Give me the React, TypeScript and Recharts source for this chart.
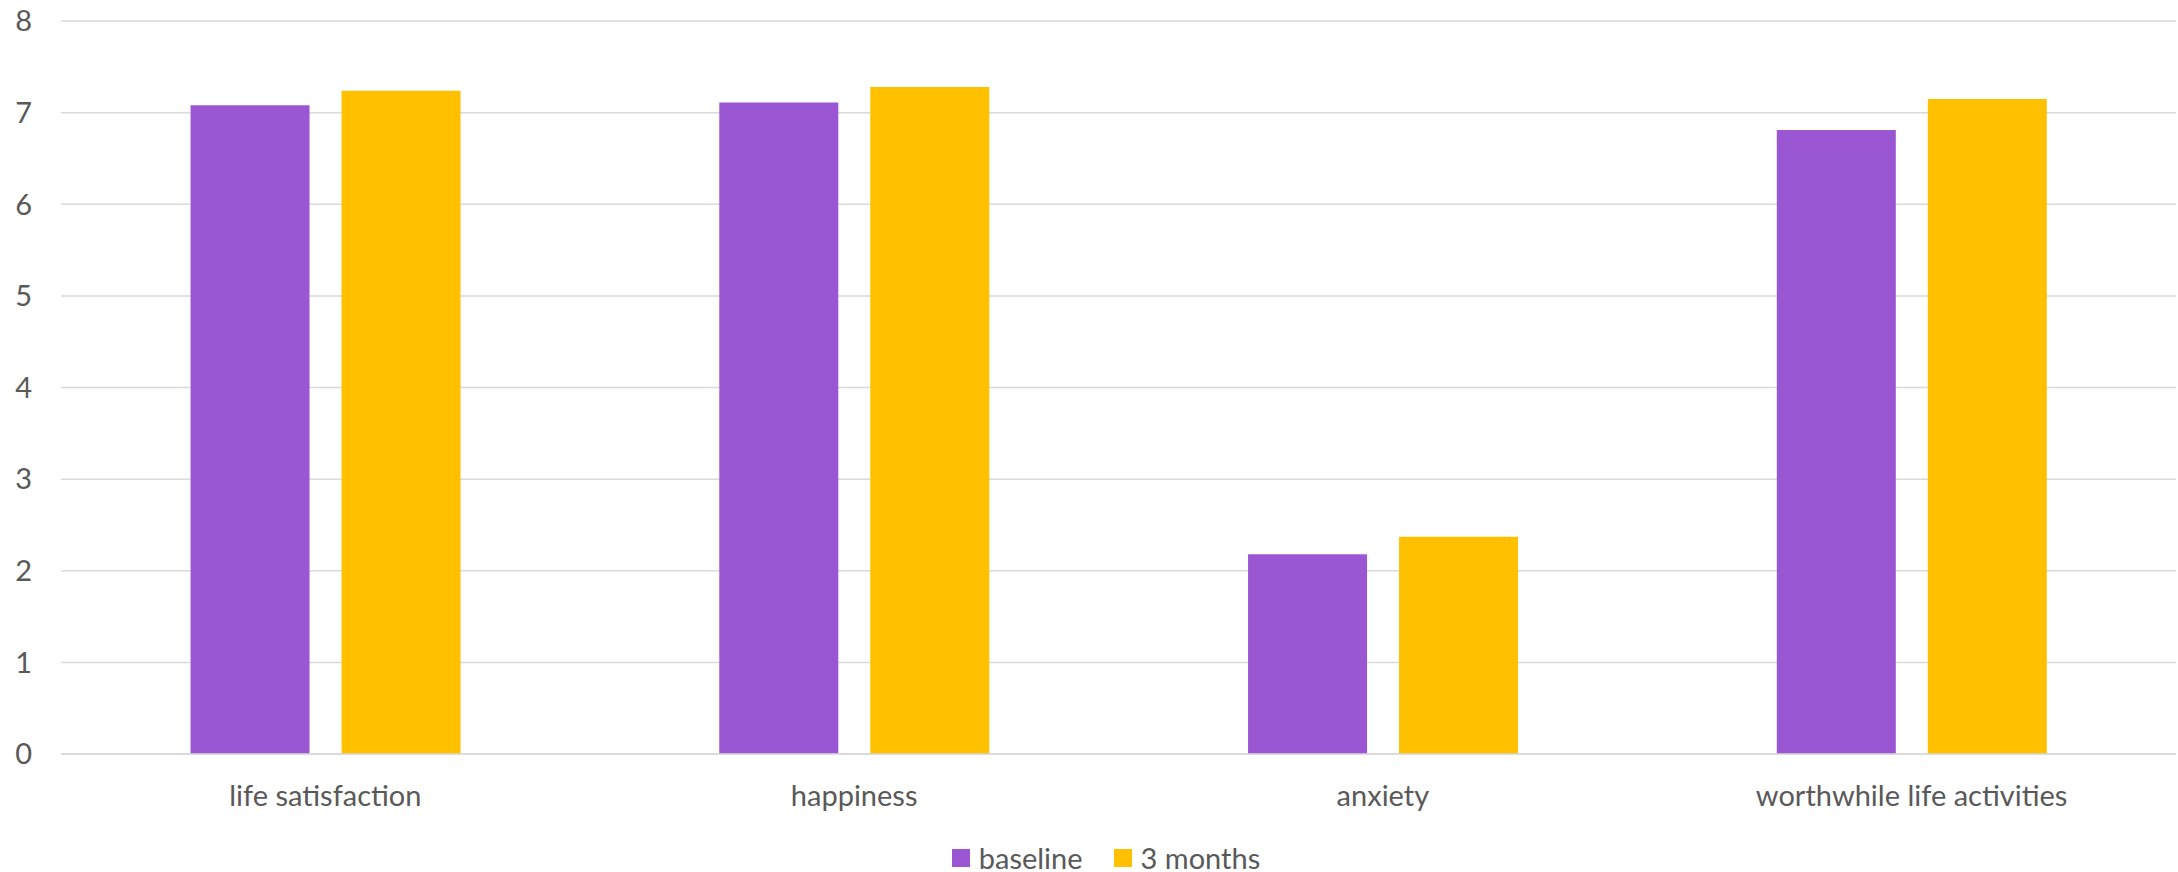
import { BarChart, Bar, XAxis, YAxis, CartesianGrid, Legend } from 'recharts';

const categories = ['life satisfaction', 'happiness', 'anxiety', 'worthwhile life activities'];
const baselineScores = [7.08, 7.11, 2.18, 6.81];
const threeMonthScores = [7.24, 7.28, 2.37, 7.15];
const seriesNames = ['baseline', '3 months'];
const seriesColors = ['#9b57d3', '#ffc000'];
const yTicks = [0, 1, 2, 3, 4, 5, 6, 7, 8];

const data = categories.map((name, i) => ({
  name,
  baseline: baselineScores[i],
  months3: threeMonthScores[i],
}));

const FONT = 'Lato, "Open Sans", sans-serif';
const TEXT = '#595959';
const GRID = '#d9d9d9';

// legend items kept in series order (recharts sorts by name otherwise)
const renderLegend = (props: any) => {
  const items = [...(props.payload || [])].sort(
    (a: any, b: any) => seriesNames.indexOf(a.value) - seriesNames.indexOf(b.value)
  );
  return (
    <div
      style={{
        display: 'flex',
        justifyContent: 'center',
        alignItems: 'center',
        height: 28,
        paddingLeft: 36,
        fontFamily: FONT,
        fontSize: 29,
        color: TEXT,
      }}
    >
      {items.map((item: any, i: number) => (
        <div key={item.value} style={{ display: 'flex', alignItems: 'center', marginLeft: i ? 31 : 0 }}>
          <span style={{ width: 18, height: 18, background: item.color, marginRight: 9, display: 'inline-block' }} />
          <span style={{ lineHeight: '28px' }}>{item.value}</span>
        </div>
      ))}
    </div>
  );
};

export default function App() {
  return (
    <div style={{ position: 'absolute', left: 0, top: 0, background: '#fff' }}>
      <BarChart
        width={2178}
        height={872}
        data={data}
        margin={{ top: 21, right: 2, bottom: 0, left: 0 }}
        barCategoryGap="24.5%"
        barGap={32}
        style={{ fontFamily: FONT }}
      >
        <CartesianGrid horizontal vertical={false} stroke={GRID} strokeWidth={1.5} />
        <XAxis
          dataKey="name"
          axisLine={{ stroke: GRID, strokeWidth: 1.5 }}
          tickLine={false}
          tickSize={0}
          tickMargin={31}
          height={90}
          tick={{ fill: TEXT, fontSize: 29, fontFamily: FONT }}
        />
        <YAxis
          domain={[0, 8]}
          ticks={yTicks}
          axisLine={false}
          tickLine={false}
          tickSize={0}
          tickMargin={29}
          width={61}
          tick={{ fill: TEXT, fontSize: 29, fontFamily: FONT }}
        />
        <Legend verticalAlign="bottom" align="center" height={28} content={renderLegend} />
        <Bar dataKey="baseline" name={seriesNames[0]} fill={seriesColors[0]} isAnimationActive={false} />
        <Bar dataKey="months3" name={seriesNames[1]} fill={seriesColors[1]} isAnimationActive={false} />
      </BarChart>
    </div>
  );
}
